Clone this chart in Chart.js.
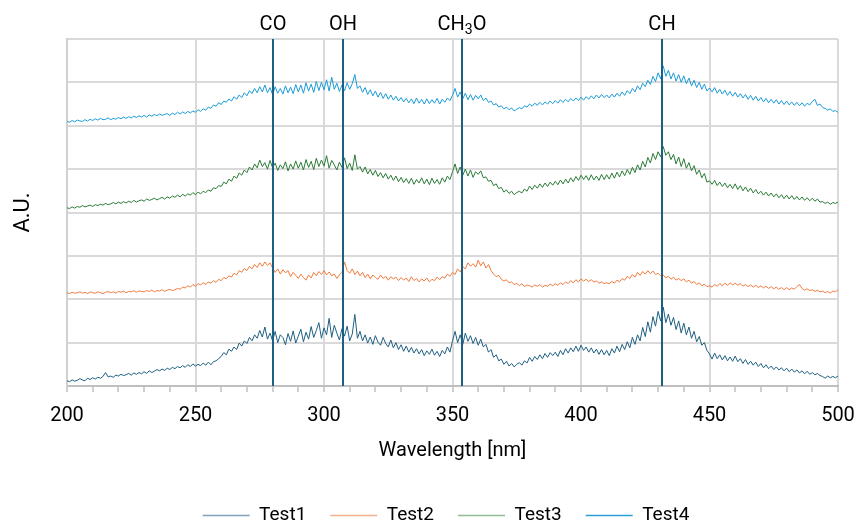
<!DOCTYPE html>
<html>
<head>
<meta charset="utf-8">
<script src="https://cdn.jsdelivr.net/npm/chart.js@4.4.1/dist/chart.umd.min.js"></script>
<style>
  html, body { margin: 0; padding: 0; background: #fff; }
  #wrap { width: 856px; height: 525px; }
</style>
</head>
<body>
<div id="wrap"><canvas id="chart"></canvas></div>
<script>
'use strict';

// ── Data: wavelength grid (nm, 1 nm step) and intensity (A.U., offset per test) ──
const wavelengths = [];
for (let w = 200; w <= 500; w++) wavelengths.push(w);

const test1 = [
  12, 10, 14, 11, 13, 17, 14, 12, 18, 15,            // 200
  19, 16, 20, 18, 22, 31, 21, 23, 20, 25,
  23, 27, 24, 26, 29, 25, 30, 27, 31, 28,
  33, 29, 35, 31, 34, 38, 35, 39, 36, 41,
  38, 43, 40, 45, 42, 47, 43, 49, 45, 51,
  46, 50, 47, 53, 48, 55, 49, 56, 58, 63,            // 250
  68, 77, 72, 85, 80, 90, 84, 99, 92, 104,
  98, 112, 104, 118, 110, 128, 113, 136, 108, 122,
  104, 126, 100, 118, 112, 95, 121, 103, 127, 99,
  115, 131, 102, 124, 108, 137, 112, 128, 146, 110,
  134, 118, 156, 112, 140, 122, 106, 132, 115, 138,  // 300
  104, 120, 165, 110, 126, 104, 118, 99, 113, 96,
  116, 101, 94, 112, 98, 90, 106, 88, 100, 84,
  95, 80, 92, 78, 89, 76, 86, 74, 84, 70,
  81, 73, 85, 71, 80, 68, 82, 74, 90, 78,
  104, 126, 100, 118, 96, 122, 103, 116, 98, 112,    // 350
  94, 108, 90, 96, 78, 84, 66, 72, 58, 62,
  50, 57, 46, 52, 44, 50, 54, 48, 58, 53,
  66, 57, 68, 61, 72, 63, 75, 66, 77, 70,
  78, 68, 82, 72, 86, 76, 88, 79, 92, 80,
  94, 82, 90, 78, 88, 76, 85, 73, 84, 72,            // 400
  82, 70, 86, 76, 92, 79, 96, 84, 102, 88,
  112, 96, 118, 104, 135, 114, 148, 124, 160, 138,
  172, 150, 182, 146, 166, 140, 158, 130, 150, 122,
  145, 118, 136, 110, 126, 102, 114, 94, 100, 82,
  74, 62, 76, 63, 72, 60, 70, 58, 67, 57,            // 450
  69, 56, 63, 52, 61, 50, 57, 48, 55, 45,
  52, 42, 49, 40, 46, 38, 44, 37, 42, 35,
  41, 33, 39, 32, 37, 30, 35, 28, 34, 27,
  31, 26, 29, 24, 22, 18, 23, 19, 22, 19,
  23                                                 // 500
];

const test2 = [
  215, 213, 216, 214, 215, 217, 214, 216, 213, 217,  // 200
  215, 214, 217, 215, 213, 216, 218, 215, 217, 214,
  218, 216, 219, 215, 218, 217, 220, 216, 219, 218,
  217, 220, 218, 221, 217, 220, 219, 222, 218, 221,
  223, 220, 222, 225, 223, 228, 226, 231, 228, 234,
  230, 236, 233, 238, 234, 240, 237, 243, 239, 246,  // 250
  243, 250, 247, 254, 251, 260, 256, 266, 262, 271,
  266, 276, 270, 280, 273, 284, 276, 286, 278, 284,
  272, 262, 270, 258, 268, 261, 266, 252, 262, 255,
  248, 258, 250, 244, 256, 249, 262, 254, 264, 257,
  266, 256, 263, 254, 258, 248, 256, 262, 286, 266,  // 300
  260, 270, 257, 265, 254, 262, 250, 258, 247, 256,
  250, 246, 256, 248, 253, 244, 252, 247, 251, 243,
  250, 244, 249, 241, 252, 243, 248, 240, 247, 242,
  249, 240, 246, 243, 251, 245, 252, 249, 258, 253,
  262, 257, 270, 263, 275, 270, 284, 276, 282, 274,  // 350
  290, 277, 286, 272, 280, 266, 258, 252, 255, 246,
  242, 245, 238, 240, 234, 237, 231, 236, 229, 233,
  231, 228, 233, 230, 234, 228, 232, 230, 235, 231,
  236, 232, 238, 234, 240, 236, 243, 238, 245, 240,
  247, 242, 246, 241, 245, 240, 242, 237, 240, 236,  // 400
  238, 236, 241, 237, 244, 240, 248, 244, 253, 248,
  257, 251, 262, 255, 264, 258, 266, 259, 265, 257,
  260, 254, 256, 249, 253, 246, 251, 244, 248, 243,
  247, 240, 244, 237, 241, 234, 238, 231, 235, 229,
  231, 228, 234, 230, 236, 231, 237, 232, 238, 233,  // 450
  237, 232, 236, 230, 234, 229, 233, 228, 232, 227,
  231, 226, 230, 225, 229, 224, 228, 223, 227, 222,
  227, 222, 226, 223, 229, 234, 225, 221, 224, 220,
  222, 218, 221, 217, 219, 215, 218, 214, 219, 217,
  222                                                // 500
];

const test3 = [
  411, 409, 413, 410, 414, 412, 416, 413, 415, 417,  // 200
  414, 418, 416, 419, 417, 421, 418, 420, 423, 420,
  424, 421, 425, 422, 426, 423, 428, 424, 427, 429,
  426, 431, 428, 430, 433, 429, 432, 435, 431, 436,
  433, 438, 435, 440, 436, 442, 438, 443, 440, 446,
  441, 447, 443, 449, 446, 452, 449, 457, 455, 462,  // 250
  460, 470, 466, 477, 472, 484, 479, 491, 486, 498,
  492, 505, 498, 512, 503, 521, 506, 515, 500, 520,
  503, 514, 497, 510, 501, 517, 496, 512, 500, 519,
  502, 516, 498, 522, 504, 518, 499, 525, 506, 521,
  507, 531, 502, 520, 510, 498, 516, 504, 526, 501,  // 300
  514, 497, 533, 500, 506, 493, 505, 489, 499, 486,
  497, 483, 492, 480, 490, 477, 486, 474, 484, 471,
  481, 469, 478, 467, 479, 465, 476, 468, 480, 466,
  477, 464, 479, 467, 476, 465, 480, 470, 484, 476,
  494, 512, 490, 505, 486, 500, 484, 498, 481, 494,  // 350
  488, 496, 480, 482, 472, 474, 462, 466, 455, 458,
  447, 452, 444, 449, 441, 446, 449, 445, 454, 449,
  461, 453, 463, 456, 466, 458, 468, 460, 470, 463,
  472, 464, 475, 466, 477, 468, 480, 471, 483, 474,
  486, 476, 485, 474, 487, 475, 484, 474, 488, 476,  // 400
  487, 477, 491, 479, 493, 482, 496, 485, 499, 488,
  504, 492, 510, 498, 518, 505, 527, 514, 536, 522,
  540, 528, 552, 532, 540, 522, 534, 512, 528, 506,
  524, 502, 515, 496, 508, 488, 498, 480, 490, 470,
  473, 465, 474, 462, 470, 460, 468, 457, 465, 455,  // 450
  466, 453, 462, 450, 459, 448, 456, 445, 453, 443,
  449, 440, 447, 438, 445, 436, 443, 434, 441, 432,
  440, 431, 439, 430, 437, 429, 436, 428, 434, 427,
  433, 426, 431, 424, 425, 421, 424, 419, 423, 421,
  424                                                // 500
];

const test4 = [
  610, 608, 612, 609, 613, 611, 610, 614, 611, 615,  // 200
  612, 616, 613, 617, 614, 615, 618, 614, 617, 615,
  619, 616, 620, 617, 621, 618, 622, 619, 623, 620,
  624, 620, 625, 622, 626, 623, 627, 624, 626, 628,
  624, 629, 626, 631, 627, 632, 628, 633, 630, 634,
  631, 637, 633, 639, 636, 643, 640, 648, 645, 653,  // 250
  649, 657, 654, 662, 657, 667, 661, 671, 665, 676,
  669, 681, 674, 686, 676, 690, 678, 694, 676, 688,
  672, 690, 675, 686, 673, 692, 676, 689, 674, 695,
  678, 694, 675, 699, 680, 696, 677, 702, 681, 700,
  683, 706, 680, 712, 684, 698, 679, 694, 681, 699,  // 300
  684, 697, 718, 686, 692, 677, 688, 672, 683, 669,
  680, 666, 677, 663, 674, 661, 671, 659, 668, 657,
  665, 655, 663, 653, 662, 651, 664, 652, 661, 650,
  662, 651, 660, 652, 663, 650, 661, 654, 664, 658,
  670, 686, 666, 678, 662, 675, 660, 672, 659, 670,  // 350
  662, 671, 658, 664, 654, 657, 648, 651, 643, 646,
  639, 643, 637, 641, 634, 638, 642, 639, 646, 643,
  650, 645, 652, 647, 654, 648, 655, 650, 657, 651,
  658, 652, 660, 654, 661, 655, 663, 657, 664, 658,
  666, 659, 667, 661, 669, 662, 671, 664, 672, 665,  // 400
  671, 664, 673, 666, 675, 668, 678, 670, 681, 674,
  686, 678, 692, 683, 698, 690, 705, 695, 714, 702,
  722, 708, 738, 714, 728, 708, 722, 703, 718, 700,
  715, 697, 710, 692, 705, 688, 700, 684, 696, 680,
  687, 678, 688, 675, 684, 673, 682, 670, 679, 668,  // 450
  677, 666, 674, 664, 672, 661, 670, 659, 668, 657,
  665, 655, 663, 653, 661, 652, 660, 650, 658, 649,
  657, 648, 655, 647, 654, 646, 653, 645, 652, 648,
  656, 661, 647, 650, 642, 640, 636, 639, 633, 635,
  631                                                // 500
];

const seriesNames  = ['Test1', 'Test2', 'Test3', 'Test4'];
const seriesColors = ['#1f5f82', '#f07b3f', '#2a7a36', '#1a9bd7'];
const legendColors = ['#7fa3bb', '#f4b08e', '#8fbb96', '#2d9fd8'];

// ── Bandas de emisión marcadas ──
const markerWavelengths = [280, 307.5, 353.8, 431.4];
const markerLabels      = ['CO', 'OH', 'CH3O', 'CH'];

const FONT = 'Roboto, "Liberation Sans", Arial, sans-serif';

// ── Plugin: líneas verticales + etiquetas arriba ──
const markerPlugin = {
    id: 'markers',
    afterDatasetsDraw(chart) {
        const { ctx, chartArea, scales } = chart;
        ctx.save();
        ctx.strokeStyle = '#1b5f85';
        ctx.lineWidth = 2;
        markerWavelengths.forEach((w, i) => {
            const x = Math.round(scales.x.getPixelForValue(w));
            ctx.beginPath();
            ctx.moveTo(x, chartArea.top);
            ctx.lineTo(x, chartArea.bottom);
            ctx.stroke();

            ctx.fillStyle = '#000';
            ctx.textBaseline = 'alphabetic';
            const label = markerLabels[i];
            const baseY = 30;
            if (label === 'CH3O') {
                ctx.font = '20px ' + FONT;
                const a = ctx.measureText('CH').width;
                const c = ctx.measureText('O').width;
                ctx.font = '14px ' + FONT;
                const b = ctx.measureText('3').width;
                const sx = x - (a + b + c) / 2;
                ctx.textAlign = 'left';
                ctx.font = '20px ' + FONT;
                ctx.fillText('CH', sx, baseY);
                ctx.font = '14px ' + FONT;
                ctx.fillText('3', sx + a, baseY + 4);
                ctx.font = '20px ' + FONT;
                ctx.fillText('O', sx + a + b, baseY);
            } else {
                ctx.font = '20px ' + FONT;
                ctx.textAlign = 'center';
                ctx.fillText(label, x, baseY);
            }
        });
        ctx.restore();
    }
};

const datasets = [test1, test2, test3, test4].map((vals, i) => ({
    label: seriesNames[i],
    data: wavelengths.map((w, j) => ({ x: w, y: vals[j] })),
    borderColor: seriesColors[i],
    backgroundColor: seriesColors[i],
    borderWidth: 1,
    pointRadius: 0,
    tension: 0,
}));

new Chart(document.getElementById('chart'), {
    type: 'line',
    data: { datasets },
    options: {
        responsive: true,
        maintainAspectRatio: false,
        animation: false,
        layout: { padding: { top: 39, right: 0, left: 36, bottom: -10 } },
        plugins: {
            legend: {
                position: 'bottom',
                labels: {
                    usePointStyle: true,
                    pointStyle: 'line',
                    pointStyleWidth: 47,
                    padding: 24,
                    color: '#000',
                    font: { family: FONT, size: 19 },
                    generateLabels: chart => chart.data.datasets.map((ds, i) => ({
                        text: ds.label,
                        datasetIndex: i,
                        hidden: false,
                        fillStyle: legendColors[i],
                        strokeStyle: legendColors[i],
                        lineWidth: 1.5,
                        pointStyle: 'line',
                        fontColor: '#000'
                    }))
                }
            },
            tooltip: { enabled: false }
        },
        scales: {
            x: {
                type: 'linear',
                min: 200,
                max: 500,
                ticks: {
                    stepSize: 10,
                    autoSkip: false,
                    maxRotation: 0,
                    padding: 12,
                    color: '#000',
                    font: { family: FONT, size: 20 },
                    callback: v => (v % 50 === 0 ? String(v) : '')
                },
                grid: {
                    color: c => (c.tick && c.tick.value % 50 === 0 ? '#d9d9d9' : 'rgba(0,0,0,0)'),
                    lineWidth: 2,
                    tickColor: '#bfbfbf',
                    tickLength: 6,
                    tickWidth: 1.5
                },
                border: { color: '#bfbfbf', width: 2 },
                title: {
                    display: true,
                    text: 'Wavelength [nm]',
                    color: '#000',
                    font: { family: FONT, size: 20 },
                    padding: { top: 0, bottom: 19 }
                },
                afterFit(scale) {
                    scale.height = 96;
                    scale.paddingLeft = 0;
                    scale.paddingRight = 18;
                }
            },
            y: {
                min: 0,
                max: 800,
                ticks: { display: false, stepSize: 100 },
                grid: { color: '#d9d9d9', lineWidth: 2, drawTicks: false },
                border: { color: '#d0d0d0', width: 2 },
                title: {
                    display: true,
                    text: 'A.U.',
                    color: '#000',
                    font: { family: FONT, size: 22 },
                    padding: { top: -26, bottom: 0 }
                },
                afterFit(scale) { scale.width = 31; }
            }
        }
    },
    plugins: [markerPlugin]
});
</script>
</body>
</html>
